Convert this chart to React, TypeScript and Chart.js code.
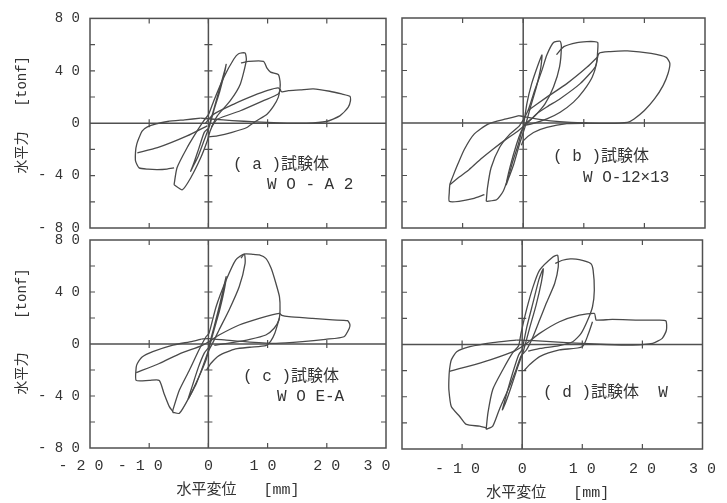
import React, { useEffect, useRef } from "react";
import { Chart, registerables } from "chart.js";
Chart.register(...registerables);

type P = [number, number];

// ---- axes ----
const xMin = -20;
const xMax = 30;
const yMin = -80;
const yMax = 80;
const xMinorValues = [-10, 0, 10, 20];
const yMinorValues = [-60, -40, -20, 20, 40, 60];
const yLabelValues = [-80, -40, 0, 40, 80];
const xLabelValuesC = [-20, -10, 0, 10, 20, 30];
const xLabelValuesD = [-10, 0, 10, 20, 30];

// ---- texts ----
const yTitleA = "  水平力   [tonf]";
const yTitleC = "   水平力    [tonf]";
const xTitleC = "水平変位   [mm]";
const xTitleD = "水平変位   [mm] ";
const captionA = ["( a )試験体", "W O - A 2"];
const captionB = ["( b )試験体", "W O-12×13"];
const captionC = ["( c )試験体", "W O E-A"];
const captionD = ["( d )試験体  W"];

// ---- panel (a) WO-A2 : displacement [mm], force [tonf] ----
const a1: P[] = [[0,-4],[1,12],[2,28],[2.8,41],[3,44.9],[2.7,38],[1.9,24],[1,11],[0.2,-2],[-0.8,-14],[-1.8,-26],[-2.7,-34],[-3,-36.7],[-2.5,-31],[-1.6,-19],[-0.7,-7],[0,-4]];
const a2: P[] = [[-5.8,-47],[-5.3,-34],[-3.6,-18.7],[-1.9,-5.9],[-0.8,1.8],[0.06,7],[0.9,17],[2.6,35],[4.3,49],[5.1,53],[6.2,53.6],[6.4,48],[5.4,30],[3.7,17.2],[1.5,5.6],[0.3,-5.9],[-0.2,-13.6],[-1.3,-26.4],[-3,-41.8],[-4.4,-50.8],[-5.8,-47]];
const a3: P[] = [[5.5,46],[6.8,47.2],[9.3,47.2],[9.9,42],[10.5,39],[11.8,37.2],[12.1,32],[12.1,26.9],[11.8,19.7],[11,13],[9.9,6.9],[8,1.5],[6.5,-3.3],[4,-7],[1.5,-9.7],[0,-10.5]];
const a4: P[] = [[-0.2,-2],[-3.6,-9.7],[-8.6,-18.7],[-12,-22.6]];
const a5: P[] = [[-1.3,3.8],[-4,2.6],[-6.9,1.3],[-8.8,-0.5],[-10.3,-2.8],[-11.2,-6],[-11.7,-11],[-12.1,-16],[-12.3,-21.3],[-12.3,-29],[-11.7,-34.1],[-10.2,-35.1],[-8.6,-35.4],[-7,-35],[-5.8,-34.1]];
const a6: P[] = [[-0.5,0],[0.9,6.9],[4.3,14.6],[7.6,21],[10,25],[11.8,26.9],[12.4,24],[13.5,24.8],[15.5,25.4],[17.7,26.2],[20.5,24.4],[22.5,22.3],[23.9,20.5],[24,17.2],[23.6,12],[22.2,5.6],[19.9,1.3],[16.6,0],[12,0.3],[8,1],[4,2],[1,3],[-1.3,3.8]];
const a7: P[] = [[0.5,-3],[1.5,3],[5.4,9.5],[9.3,17.2],[11.8,22.3],[12.2,26]];

// ---- panel (b) WO-12x13 ----
const b1: P[] = [[0,-4],[0.6,14.6],[1.4,30],[2.5,45],[3.1,51.8],[2.9,42],[2.2,28],[1.2,12],[0.3,-3],[-0.6,-16],[-1.6,-32],[-2.4,-42],[-2.8,-47],[-2.2,-34],[-1.1,-16.2],[-0.3,-5.9],[0,-4]];
const b2: P[] = [[-6.1,-59.7],[-5.9,-49.5],[-5.3,-34.1],[-3.9,-18.7],[-2.2,-8.5],[-0.6,-2],[0.8,9.5],[1.9,24.9],[3.1,40.3],[3.9,51.8],[5,61.3],[6.1,62.3],[6.3,58.2],[6,42.8],[5,27.4],[3.6,14.6],[1.7,4.4],[0.3,-0.8],[-0.3,-7.2],[-0.8,-16.2],[-1.7,-29],[-2.5,-41.8],[-3.3,-52],[-4.4,-58.5],[-6.1,-59.7]];
const b3: P[] = [[5.5,52],[6.7,58.2],[8.9,61.3],[10.5,62],[11.7,62],[12.3,61.3],[12.3,55.6],[12.1,45.4],[11.4,35.1],[10,24.9],[8.3,15.9],[6.1,8.2],[3.9,3.1],[1.7,-0.3],[0,-2]];
const b4: P[] = [[0.8,9.5],[3.9,19.7],[7.2,30],[10.6,42.8],[12.3,50.5]];
const b5: P[] = [[-12.1,-46.9],[-10.5,-41],[-8.9,-35.4],[-7,-27.5],[-5,-20],[-2.8,-12.3],[-0.8,-5.9],[0.8,0.5],[2.2,6.9],[4,12.5],[6.1,18.5],[9.4,30],[11.9,42.8],[12.5,53],[14.4,54.4],[17.2,54.9],[21.1,53],[23.6,50],[24.2,45.4],[23.9,37.7],[23.1,28.7],[21.7,18.5],[20,9.5],[18.3,3.1],[17.2,0.5],[14,-0.3],[10,0],[6,1],[3,2.5],[0.5,4.5],[-0.7,5.6]];
const b6: P[] = [[-0.7,5.6],[-2.8,3.1],[-5.8,-0.8],[-8.1,-8.5],[-9.7,-20],[-10.8,-31.5],[-11.7,-41.8],[-12.1,-46.9],[-12.2,-53],[-12.2,-59.7],[-10.6,-59.7],[-8.3,-57.7],[-6.4,-54.6]];
const b7: P[] = [[-0.3,-17],[0,-13.6],[1.7,-7.2],[3.9,-3.3],[7.2,-0.5],[10.6,-0.2]];

// ---- panel (c) WOE-A ----
const c1: P[] = [[0,-3],[1,14],[2,32],[2.7,46],[3,51.8],[2.7,42],[1.9,26],[0.9,10],[0,-5],[-1,-18],[-2,-30],[-3,-39],[-3.4,-42],[-2.7,-32],[-1.7,-18],[-0.7,-7],[0,-3]];
const c2: P[] = [[-6.05,-52.5],[-6,-50.8],[-4.9,-35.4],[-3.2,-20],[-1.6,-4.6],[-0.4,5.6],[0.1,8.2],[1.3,28.7],[3,49.2],[4.6,64.6],[6.05,69.2],[6.2,62],[5.2,44],[3.5,26.2],[1.8,10.8],[0.7,0.5],[0.1,-4.6],[-0.4,-12.3],[-1.6,-25.2],[-3.2,-40.5],[-4.9,-53.3],[-6.05,-52.5]];
const c3: P[] = [[5.5,66],[6.05,69.2],[7.5,69],[8.6,68.5],[9.7,65.9],[10.6,58.2],[11.4,46.7],[12,36.4],[12.1,26.2],[11.9,18.5],[11.1,12.1],[9.7,6.9],[7,3.5],[4,1],[1,-1]];
const c4: P[] = [[-12.2,-22],[-8.3,-15],[-4.6,-7],[-1.2,-1.5],[0.5,3],[1.8,6.9],[5.2,14.6],[8.6,19.7],[12,23.6],[12.4,22],[13.6,21],[17.6,19.7],[21,18.5],[23.5,17.9],[23.9,15],[23.8,12.1],[22.9,5.6],[19.8,3.6],[15.9,1.8],[11.4,0.5],[7,1.5],[3,3],[0,4.2],[-1.2,3.8]];
const c5: P[] = [[-1.2,3.8],[-2.7,2],[-6,-0.8],[-9.4,-5.9],[-11.2,-10],[-12,-15],[-12.2,-18],[-12.2,-28],[-10,-28],[-8.3,-28],[-7.5,-38],[-6.6,-48.2],[-6,-52]];
const c6: P[] = [[12,20],[11.2,8],[10.5,2],[9.7,-1.3],[7,-2.5],[4.6,-3.8],[1.8,-8.9],[0.4,-15],[-0.3,-20]];

// ---- panel (d) W ----
const d1: P[] = [[0,-4],[0.8,14],[1.8,32],[2.8,50],[3.5,58],[3.2,48],[2.3,30],[1.2,12],[0.2,-5],[-0.8,-18],[-1.8,-32],[-2.8,-45],[-3.3,-50],[-2.6,-38],[-1.6,-22],[-0.6,-8],[0,-4]];
const d2: P[] = [[-6,-65],[-5.7,-52.3],[-4.9,-34.4],[-3.2,-19.1],[-1.6,-6.4],[-0.6,-1],[-0.2,8.5],[0.7,26.3],[1.8,44.1],[2.9,56.9],[5.1,67],[5.9,68.3],[6,59.4],[5.4,46.7],[4,31.5],[2.9,18.7],[1.8,6],[0.7,-4.2],[-0.2,-8.9],[-1,-19.1],[-2.1,-31.9],[-3.8,-49.7],[-4.9,-62.5],[-6,-65]];
const d3: P[] = [[5.5,62],[6.7,64.5],[8,65.5],[9.5,65],[11.4,62],[11.8,56.9],[12,41.6],[11.7,28.9],[10.9,18.7],[9.8,8.5],[8.4,2.1],[6,-1],[3,-3],[1,-5]];
const d4: P[] = [[-12.1,-20.5],[-9,-16.8],[-5.2,-11.5],[-1.3,-5],[0.5,0],[2.9,8.5],[6.2,17.4],[9.5,22.5],[12,23.8],[12.2,20.5],[12.3,18.7],[15,19.2],[19.5,18.7],[22.2,18.7],[23.9,18.2],[24,11.1],[23.3,4.7],[21.7,0.9],[18.4,-0.4],[14,0],[10,0.8],[6,1.8],[2,3],[-1,3.4]];
const d5: P[] = [[-1,3.4],[-4.9,1.4],[-8.7,-1.7],[-10.9,-5.5],[-11.8,-11.8],[-12.1,-19.5],[-12.2,-27],[-12.2,-34.7],[-11.8,-47.5],[-10.4,-55.1],[-9.3,-61.2],[-7.1,-62.5],[-6,-63.8]];
const d6: P[] = [[11.7,17.4],[11,8],[10,-1.7],[6.2,-4.2],[2.9,-9.3],[1.2,-15.6],[0.3,-20]];

// ---- style ----
const LINE = "#4a4a4a";
const FRAME = "#505050";
const TEXT = "#333333";
const MONO = "'Liberation Mono', 'Noto Sans CJK JP', monospace";

const spaced = (v: number) => String(v).split("").join(" ");

type Caption = { text: string; dx: number; dy: number };

type PanelCfg = {
  loops: P[][];
  padding: { left: number; top: number; right: number; bottom: number };
  yAxis: boolean;
  xAxis: boolean;
  yTitle?: string;
  xTitle?: string;
  xLabels?: number[];
  xTrail?: Record<string, number>;
  xScaleHeight?: number;
  xLabelPad?: number;
  xTitlePad?: number;
  captions: Caption[];
};

const panels: PanelCfg[] = [
  {
    loops: [a1, a2, a3, a4, a5, a6, a7],
    padding: { left: 0, top: 18, right: 341, bottom: 275 },
    yAxis: true,
    xAxis: false,
    yTitle: yTitleA,
    captions: [
      { text: captionA[0], dx: 143, dy: 146 },
      { text: captionA[1], dx: 177, dy: 166 },
    ],
  },
  {
    loops: [b1, b2, b3, b4, b5, b6, b7],
    padding: { left: 402, top: 18, right: 22, bottom: 275 },
    yAxis: false,
    xAxis: false,
    captions: [
      { text: captionB[0], dx: 151, dy: 139 },
      { text: captionB[1], dx: 181, dy: 160 },
    ],
  },
  {
    loops: [c1, c2, c3, c4, c5, c6],
    padding: { left: 0, top: 240, right: 341, bottom: 0 },
    yAxis: true,
    xAxis: true,
    yTitle: yTitleC,
    xTitle: xTitleC,
    xLabels: xLabelValuesC,
    xTrail: { "-20": 2, "-10": 2, "10": 1, "30": 2 },
    xScaleHeight: 55,
    xLabelPad: 9,
    xTitlePad: 4,
    captions: [
      { text: captionC[0], dx: 153, dy: 137 },
      { text: captionC[1], dx: 187, dy: 157 },
    ],
  },
  {
    loops: [d1, d2, d3, d4, d5, d6],
    padding: { left: 402, top: 240, right: 23, bottom: 0 },
    yAxis: false,
    xAxis: true,
    xTitle: xTitleD,
    xLabels: xLabelValuesD,
    xTrail: { "-10": 1 },
    xScaleHeight: 54,
    xLabelPad: 11,
    xTitlePad: 1,
    captions: [{ text: captionD[0], dx: 141, dy: 153 }],
  },
];

function makeFramePlugin(captions: Caption[]) {
  return {
    id: "frame",
    beforeDatasetsDraw(chart: any) {
      const { ctx, chartArea, scales } = chart;
      const { left, right, top, bottom } = chartArea;
      const xs = scales.x;
      const ys = scales.y;
      const x0 = xs.getPixelForValue(0);
      const y0 = ys.getPixelForValue(0);
      ctx.save();
      ctx.strokeStyle = FRAME;
      ctx.lineWidth = 1.5;
      ctx.strokeRect(left, top, right - left, bottom - top);
      ctx.beginPath();
      ctx.moveTo(x0, top);
      ctx.lineTo(x0, bottom);
      ctx.moveTo(left, y0);
      ctx.lineTo(right, y0);
      ctx.stroke();
      ctx.lineWidth = 1.2;
      ctx.beginPath();
      for (const v of xMinorValues) {
        const px = xs.getPixelForValue(v);
        ctx.moveTo(px, top);
        ctx.lineTo(px, top + 5);
        ctx.moveTo(px, bottom);
        ctx.lineTo(px, bottom - 5);
        if (v !== 0) {
          ctx.moveTo(px, y0 - 4);
          ctx.lineTo(px, y0 + 4);
        }
      }
      for (const v of yMinorValues) {
        const py = ys.getPixelForValue(v);
        ctx.moveTo(left, py);
        ctx.lineTo(left + 5, py);
        ctx.moveTo(right, py);
        ctx.lineTo(right - 5, py);
        ctx.moveTo(x0 - 4, py);
        ctx.lineTo(x0 + 4, py);
      }
      ctx.stroke();
      ctx.restore();
    },
    afterDatasetsDraw(chart: any) {
      const { ctx, chartArea } = chart;
      ctx.save();
      ctx.fillStyle = TEXT;
      ctx.font = `16px ${MONO}`;
      ctx.textAlign = "left";
      ctx.textBaseline = "middle";
      for (const c of captions) {
        ctx.fillText(c.text, chartArea.left + c.dx, chartArea.top + c.dy);
      }
      ctx.restore();
    },
  };
}

function Panel({ cfg }: { cfg: PanelCfg }) {
  const ref = useRef<HTMLCanvasElement>(null);
  useEffect(() => {
    const canvas = ref.current!;
    const datasets = cfg.loops.map((loop) => ({
      data: loop.map(([x, y]) => ({ x, y })),
      showLine: true,
      borderColor: LINE,
      borderWidth: 1.3,
      pointRadius: 0,
      tension: 0.2,
      fill: false,
    }));
    const chart = new Chart(canvas, {
      type: "scatter",
      data: { datasets },
      options: {
        animation: false,
        responsive: false,
        devicePixelRatio: 1,
        events: [],
        layout: { padding: cfg.padding },
        plugins: { legend: { display: false }, tooltip: { enabled: false } },
        scales: {
          x: {
            type: "linear",
            display: cfg.xAxis,
            min: xMin,
            max: xMax,
            grid: { display: false, drawTicks: false },
            border: { display: false },
            afterBuildTicks: (scale: any) => {
              scale.ticks = (cfg.xLabels || []).map((v) => ({ value: v }));
            },
            ticks: {
              autoSkip: false,
              maxRotation: 0,
              minRotation: 0,
              padding: cfg.xLabelPad ?? 9,
              color: TEXT,
              font: { family: MONO, size: 15 },
              callback: (v: any) => {
                const n = Number(v);
                const trail = (cfg.xTrail && cfg.xTrail[String(n)]) || 0;
                return spaced(n) + " ".repeat(trail);
              },
            },
            title: {
              display: !!cfg.xTitle,
              text: cfg.xTitle || "",
              color: TEXT,
              font: { family: MONO, size: 15 },
              padding: { top: 0, bottom: cfg.xTitlePad ?? 4 },
            },
            afterFit: (scale: any) => {
              scale.height = cfg.xAxis ? cfg.xScaleHeight ?? 0 : 0;
            },
          },
          y: {
            type: "linear",
            display: cfg.yAxis,
            min: yMin,
            max: yMax,
            grid: { display: false, drawTicks: false },
            border: { display: false },
            afterBuildTicks: (scale: any) => {
              scale.ticks = yLabelValues.map((v) => ({ value: v }));
            },
            ticks: {
              padding: 10,
              color: TEXT,
              font: { family: MONO, size: 14 },
              callback: (v: any) => spaced(Number(v)),
            },
            title: {
              display: !!cfg.yTitle,
              text: cfg.yTitle || "",
              color: TEXT,
              font: { family: MONO, size: 14 },
              padding: { top: 14, bottom: 0 },
            },
            afterFit: (scale: any) => {
              scale.width = cfg.yAxis ? 90 : 0;
            },
          },
        },
      },
      plugins: [makeFramePlugin(cfg.captions)],
    } as any);
    return () => chart.destroy();
  }, [cfg]);
  return (
    <canvas
      ref={ref}
      width={727}
      height={503}
      style={{ position: "absolute", left: 0, top: 0, width: 727, height: 503 }}
    />
  );
}

export default function App() {
  return (
    <div
      style={{
        position: "absolute",
        left: 0,
        top: 0,
        width: 727,
        height: 503,
        background: "#ffffff",
        overflow: "hidden",
      }}
    >
      {panels.map((p, i) => (
        <Panel key={i} cfg={p} />
      ))}
    </div>
  );
}
